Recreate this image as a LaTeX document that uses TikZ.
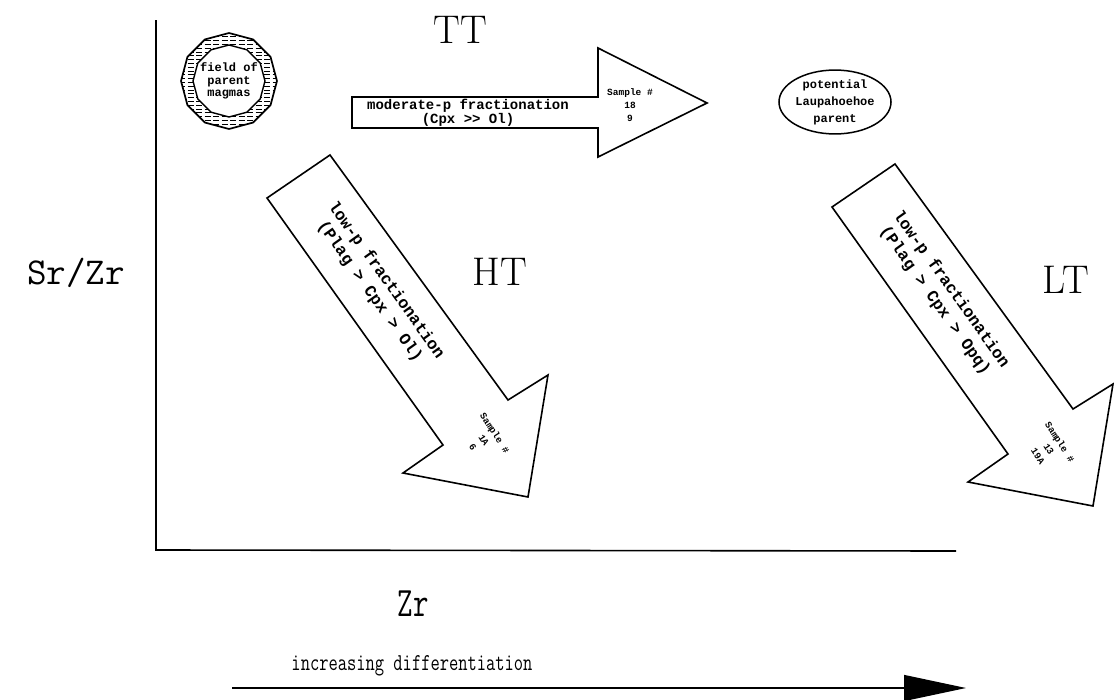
\documentclass[tikz,border=0pt]{standalone}
\usepackage{fontspec}
\newfontfamily\plotfont{Liberation Mono}
\usetikzlibrary{arrows.meta,shapes.geometric,calc}
\tikzset{
  outline/.style={draw=black, line width=1.6pt, line join=miter, fill=white},
  boxtext/.style={font=\plotfont\bfseries\fontsize{14}{13}\selectfont, align=center, inner sep=0pt},
  slanttext/.style={font=\plotfont\bfseries\fontsize{16.5}{20}\selectfont, align=center, inner sep=0pt, rotate=-54.5},
  sampletext/.style={font=\plotfont\bfseries\fontsize{9.5}{13}\selectfont, align=center, inner sep=0pt},
  bigtext/.style={font=\fontsize{40}{40}\selectfont, inner sep=0pt},
  axislabel/.style={font=\ttfamily\fontsize{#1}{#1}\selectfont, inner sep=0pt},
  axisline/.style={line width=1.6pt},
}
\begin{document}
\begin{tikzpicture}[x=1pt,y=-1pt]
\useasboundingbox (0,0) rectangle (1114,699);

% axes
\coordinate (ytop) at (156,20);
\coordinate (origin) at (156,550);
\coordinate (xend) at (956,551);
\draw[axisline] (ytop) -- (origin) -- (xend);

\node[axislabel=38] (ylab) at (76,273) {Sr/Zr};
\node[axislabel=30, yscale=1.4, transform shape] (xlab) at (413,604) {Zr};
\node[axislabel=18, yscale=1.35, transform shape] (difflab) at (412,666) {increasing differentiation};
\coordinate (da) at (232,688);
\coordinate (db) at (966,688);
\draw[line width=1.3pt, -{Triangle[length=62pt,width=26pt]}] (da) -- (db);

% field of parent magmas
\coordinate (fc) at (229,81);
\begin{scope}[even odd rule]
  \clip (fc) +(90:48) \foreach \a in {120,150,...,420} { -- +(\a:48) } -- cycle
        (fc) +(90:36) \foreach \a in {120,150,...,420} { -- +(\a:36) } -- cycle;
  \foreach \yy in {-48,-44.2,...,48} {
    \draw[line width=1pt, dash pattern=on 6pt off 2.5pt] ($(fc)+(-50,\yy)$) -- ($(fc)+(50,\yy)$);
  }
\end{scope}
\draw[line width=1.7pt, line join=miter] (fc) +(90:48) \foreach \a in {120,150,...,420} { -- +(\a:48) } -- cycle;
\draw[line width=1.4pt, line join=miter] (fc) +(90:36) \foreach \a in {120,150,...,420} { -- +(\a:36) } -- cycle;
\node[font=\plotfont\bfseries\fontsize{12}{12.5}\selectfont, align=center, inner sep=0pt] (field) at (fc) {field of\\parent\\magmas};

% TT arrow
\draw[outline] (352,97) -- (598,97) -- (598,48) -- (707,103) -- (598,157) -- (598,128) -- (352,128) -- cycle;
\node[boxtext] (tttext) at (468,113) {moderate-p fractionation\\(Cpx >{}> Ol)};
\node[sampletext] (ttsample) at (630,105) {Sample \#\\18\\9};
\node[bigtext] (ttlab) at (460,30) {TT};

% potential parent
\node[draw, ellipse, line width=1.5pt, minimum width=104pt, minimum height=60pt, inner sep=0pt,
      font=\plotfont\bfseries\fontsize{12}{17}\selectfont, align=center] (parent) at (835,102) {potential\\Laupahoehoe\\parent};

% HT arrow
\draw[outline] (267,198) -- (443,445) -- (403,473) -- (528,497) -- (548,375) -- (508,400) -- (330,155) -- cycle;
\node[slanttext] (httext) at (378,286) {low-p fractionation\\(Plag > Cpx > Ol)};
\node[sampletext, rotate=-57] (htsample) at (484,440) {Sample \#\\1A\\6};
\node[bigtext] (htlab) at (500,272) {HT};

% LT arrow
\begin{scope}[shift={(565,9)}]
\draw[outline] (267,198) -- (443,445) -- (403,473) -- (528,497) -- (548,375) -- (508,400) -- (330,155) -- cycle;
\node[slanttext] (lttext) at (378,286) {low-p fractionation\\(Plag > Cpx > Opq)};
\node[sampletext, rotate=-57] (ltsample) at (484,440) {Sample \#\\13\\19A};
\end{scope}
\node[bigtext] (ltlab) at (1066,280) {LT};
\end{tikzpicture}
\end{document}
